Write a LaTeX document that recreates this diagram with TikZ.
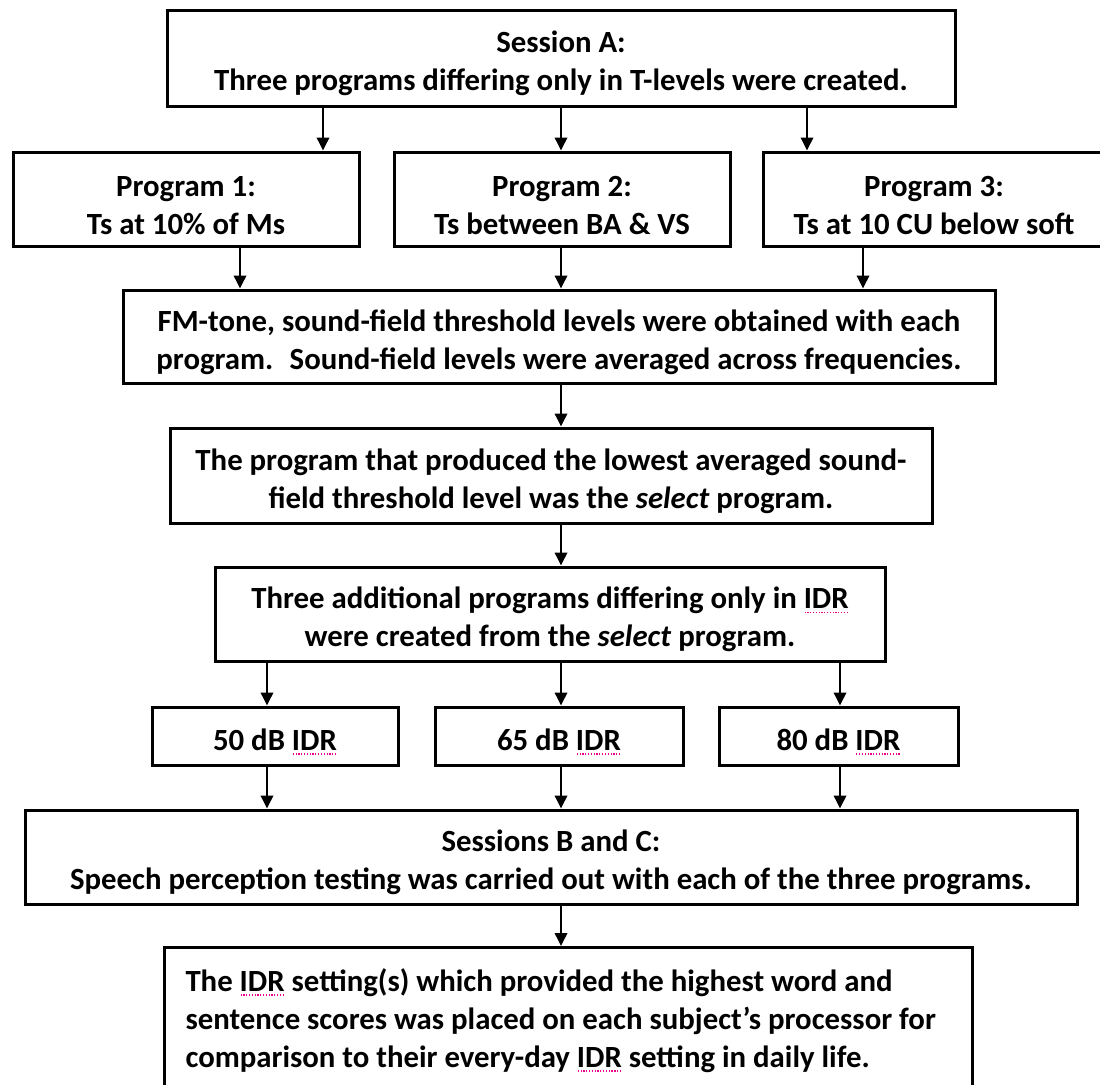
\documentclass[tikz,border=0pt]{standalone}
\usepackage{fontspec}
\setmainfont{Carlito}
\usetikzlibrary{arrows.meta}

% dotted spell-check mark under a word
\newsavebox{\spellbox}
\newcommand{\spellmark}[1]{\sbox{\spellbox}{#1}%
  \rlap{\lower2pt\hbox to\wd\spellbox{\color{magenta}\xleaders\hbox to1.4pt{\hss\rule{0.6pt}{0.6pt}\hss}\hfill}}%
  \usebox{\spellbox}}
\newcommand{\tstrut}{\rule{0pt}{16.5pt}}

\begin{document}
\begin{tikzpicture}[x=0.5pt, y=-0.5pt,
    font=\fontsize{15.4}{19}\selectfont\bfseries,
    box/.style={rectangle, draw=black, line width=1.5pt, align=center, inner sep=0pt,
      execute at begin node={\tstrut}},
    ar/.style={-{Triangle[width=6.3pt,length=6.5pt]}, draw=black, line width=0.75pt}]
  \useasboundingbox (0,0) rectangle (1100,1084);
  \clip (0,0) rectangle (1100,1084);
  % arrow columns
  \coordinate (kx1) at (323,0);
  \coordinate (kx2) at (561,0);
  \coordinate (kx3) at (807,0);
  \coordinate (mx1) at (240,0);
  \coordinate (mx3) at (863,0);
  \coordinate (lx1) at (267,0);
  \coordinate (lx3) at (840,0);
  % session A and the T-level programs
  \node[box, minimum width=394pt, minimum height=48pt] (sessA) at (561,58)
    {\tstrut Session A:\\Three programs differing only in T-levels were created.};
  \node[box, minimum width=173pt, minimum height=47pt] (prog1) at (186,199)
    {\tstrut Program 1:\\Ts at 10\% of Ms};
  \node[box, minimum width=168pt, minimum height=47pt] (prog2) at (562,199)
    {\tstrut Program 2:\\Ts between BA \& VS};
  \node[box, minimum width=171pt, minimum height=47pt] (prog3) at (934,199)
    {\tstrut Program 3:\\Ts at 10 CU below soft};
  \node[box, minimum width=436pt, minimum height=46.5pt] (fmtone) at (559,336.5)
    {\tstrut FM-tone, sound-field threshold levels were obtained with each\\program.~ Sound-field levels were averaged across frequencies.};
  \node[box, minimum width=381pt, minimum height=47.5pt] (selprog) at (551,475.5)
    {\tstrut The program that produced the lowest averaged sound-\\field threshold level was the \textit{select} program.};
  \node[box, minimum width=335pt, minimum height=47pt] (addprog) at (550,614)
    {\tstrut Three additional programs differing only in \spellmark{IDR}\\were created from the \textit{select} program.};
  % the three IDR programs
  \node[box, minimum width=123pt, minimum height=29pt] (idr50) at (275,736) {50 dB \spellmark{IDR}};
  \node[box, minimum width=124pt, minimum height=29pt] (idr65) at (559,736) {65 dB \spellmark{IDR}};
  \node[box, minimum width=119.5pt, minimum height=29pt] (idr80) at (838.5,736) {80 dB \spellmark{IDR}};
  \node[box, minimum width=526pt, minimum height=47pt] (sessBC) at (551,857)
    {\tstrut Sessions B and C:\\Speech perception testing was carried out with each of the three programs.};
  \node[box, anchor=north west, inner xsep=10.5pt, inner ysep=5.5pt] (final) at (163,946)
    {\parbox[t][75pt][t]{383pt}{\raggedright The \spellmark{IDR} setting(s) which provided the highest word and\\
      sentence scores was placed on each subject’s processor for\\
      comparison to their every-day \spellmark{IDR} setting in daily life.}};
  % connectors
  \draw[ar] (sessA.south -| kx1) -- (prog1.north -| kx1);
  \draw[ar] (sessA.south -| kx2) -- (prog2.north -| kx2);
  \draw[ar] (sessA.south -| kx3) -- (prog3.north -| kx3);
  \draw[ar] (prog1.south -| mx1) -- (fmtone.north -| mx1);
  \draw[ar] (prog2.south -| kx2) -- (fmtone.north -| kx2);
  \draw[ar] (prog3.south -| mx3) -- (fmtone.north -| mx3);
  \draw[ar] (fmtone.south -| kx2) -- (selprog.north -| kx2);
  \draw[ar] (selprog.south -| kx2) -- (addprog.north -| kx2);
  \draw[ar] (addprog.south -| lx1) -- (idr50.north -| lx1);
  \draw[ar] (addprog.south -| kx2) -- (idr65.north -| kx2);
  \draw[ar] (addprog.south -| lx3) -- (idr80.north -| lx3);
  \draw[ar] (idr50.south -| lx1) -- (sessBC.north -| lx1);
  \draw[ar] (idr65.south -| kx2) -- (sessBC.north -| kx2);
  \draw[ar] (idr80.south -| lx3) -- (sessBC.north -| lx3);
  \draw[ar] (sessBC.south -| kx2) -- (final.north -| kx2);
\end{tikzpicture}
\end{document}
